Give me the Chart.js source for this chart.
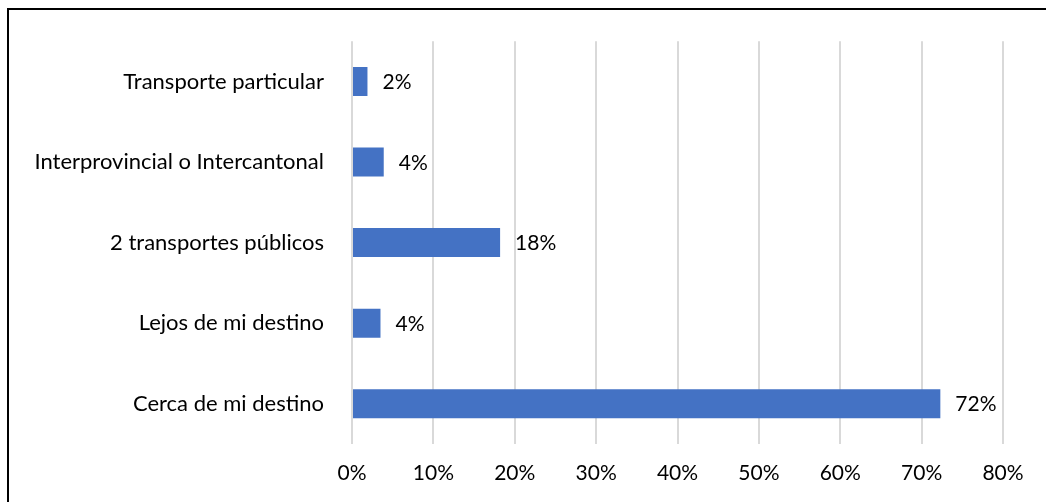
<!DOCTYPE html>
<html>
<head>
<meta charset="utf-8">
<script src="https://cdn.jsdelivr.net/npm/chart.js@4.4.1/dist/chart.umd.min.js"></script>
<style>
  html, body { margin: 0; padding: 0; background: #fff; overflow: hidden; }
  #wrap { position: relative; width: 1046px; height: 502px; }
  #frame { position: absolute; left: 7px; top: 8px; width: 1100px; height: 600px; border: 2px solid #000; box-sizing: border-box; pointer-events: none; }
</style>
</head>
<body>
<div id="wrap">
  <canvas id="chart" width="1046" height="502"></canvas>
  <div id="frame"></div>
</div>
<script>
const categories = ['Transporte particular', 'Interprovincial o Intercantonal', '2 transportes públicos', 'Lejos de mi destino', 'Cerca de mi destino'];
const values = [1.9, 3.9, 18.2, 3.5, 72.3];
const valueLabels = ['2%', '4%', '18%', '4%', '72%'];
const xTicks = [0, 10, 20, 30, 40, 50, 60, 70, 80];

const fontFamily = 'Lato, "Open Sans", sans-serif';
const textColor = '#000';

// draws the percentage next to each bar
const barLabels = {
  id: 'barLabels',
  afterDatasetsDraw(chart) {
    const ctx = chart.ctx;
    const meta = chart.getDatasetMeta(0);
    ctx.save();
    ctx.font = '21px ' + fontFamily;
    ctx.fillStyle = textColor;
    ctx.textAlign = 'left';
    ctx.textBaseline = 'middle';
    meta.data.forEach((bar, i) => {
      ctx.fillText(valueLabels[i], bar.x + 15, bar.y + 1);
    });
    ctx.restore();
  }
};

const ctx = document.getElementById('chart').getContext('2d');
new Chart(ctx, {
  type: 'bar',
  data: {
    labels: categories,
    datasets: [{
      data: values,
      backgroundColor: '#4472C4',
      borderWidth: 0,
      categoryPercentage: 1,
      barPercentage: 0.36
    }]
  },
  options: {
    indexAxis: 'y',
    responsive: false,
    animation: false,
    layout: { padding: { top: 37, right: 43, bottom: 0, left: 0 } },
    plugins: {
      legend: { display: false },
      tooltip: { enabled: false }
    },
    scales: {
      x: {
        min: 0,
        max: 80,
        afterBuildTicks: scale => { scale.ticks = xTicks.map(v => ({ value: v })); },
        afterFit: scale => { scale.height = 58; },
        grid: { color: '#d9d9d9', lineWidth: 2, drawTicks: false },
        border: { display: false },
        ticks: {
          padding: 17,
          color: textColor,
          font: { family: fontFamily, size: 21 },
          callback: v => v + '%'
        }
      },
      y: {
        afterFit: scale => { scale.width = 352; },
        grid: { display: false, drawTicks: false },
        border: { display: false },
        ticks: {
          padding: 28,
          color: textColor,
          font: { family: fontFamily, size: 22 }
        }
      }
    }
  },
  plugins: [barLabels]
});
</script>
</body>
</html>
